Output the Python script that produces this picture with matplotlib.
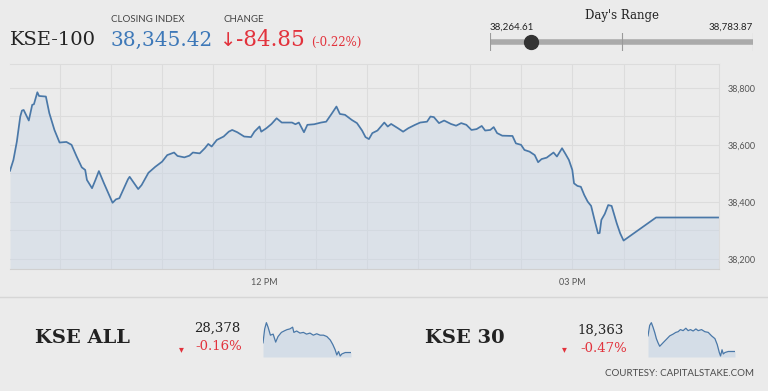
import numpy as np
import matplotlib
matplotlib.use("Agg")
import matplotlib.pyplot as plt
from matplotlib.lines import Line2D

# KSE-100 intraday, minutes after 09:30
kse100_min = [1, 3, 5, 7, 8, 9, 12, 14, 15, 17, 18, 22, 24, 27, 30, 34, 37, 40, 43, 45,
              46, 49, 51, 53, 56, 59, 61, 63, 65, 68, 70, 71, 73, 76, 78, 82, 86, 90, 93, 97,
              99, 103, 106, 108, 112, 115, 117, 119, 122, 126, 129, 131, 134, 138, 142, 144, 147, 148, 151, 154,
              157, 160, 166, 168, 170, 173, 175, 179, 183, 186, 189, 192, 194, 197, 201, 204, 207, 209, 211, 213,
              216, 220, 222, 224, 228, 231, 234, 238, 241, 245, 247, 249, 252, 255, 259, 262, 265, 268, 271, 274,
              277, 279, 282, 284, 286, 289, 295, 297, 300, 302, 305, 308, 310, 312, 315, 319, 321, 324, 326, 328,
              330, 331, 333, 335, 337, 339, 341, 343, 345, 346, 347, 349, 351, 353, 356, 358, 360, 379, 416]
kse100_val = [38509, 38547, 38611, 38699, 38720, 38722, 38685, 38740, 38742, 38784, 38771, 38769, 38711, 38652, 38608, 38610, 38600, 38559, 38521, 38512,
              38477, 38448, 38477, 38508, 38465, 38424, 38397, 38409, 38413, 38453, 38479, 38488, 38471, 38445, 38459, 38502, 38523, 38541, 38564, 38573,
              38561, 38556, 38562, 38573, 38570, 38588, 38603, 38594, 38617, 38629, 38646, 38652, 38644, 38629, 38627, 38646, 38664, 38646, 38658, 38673,
              38693, 38678, 38678, 38672, 38678, 38644, 38670, 38672, 38678, 38681, 38707, 38734, 38708, 38705, 38687, 38676, 38650, 38627, 38620, 38641,
              38650, 38678, 38664, 38673, 38658, 38646, 38658, 38670, 38678, 38681, 38699, 38697, 38676, 38685, 38673, 38667, 38676, 38670, 38652, 38655,
              38666, 38650, 38652, 38662, 38641, 38632, 38631, 38605, 38600, 38582, 38576, 38564, 38539, 38550, 38555, 38573, 38559, 38588, 38568, 38547,
              38512, 38465, 38456, 38453, 38424, 38401, 38386, 38337, 38290, 38291, 38337, 38358, 38389, 38386, 38325, 38290, 38264.61, 38345.42, 38345.42]

# sparklines
kse_all_min = [0, 8, 16, 24, 35, 48, 60, 71, 87, 103, 114, 127, 140, 146, 159, 175, 191, 206, 222, 238,
               254, 270, 286, 302, 318, 330, 341, 349, 357, 365, 373, 389, 416]
kse_all_val = [28462, 28582, 28636, 28597, 28528, 28537, 28468, 28516, 28552, 28567, 28576, 28582, 28597, 28552, 28564, 28546, 28552, 28537, 28546, 28528,
               28540, 28528, 28528, 28516, 28486, 28447, 28402, 28357, 28387, 28348, 28366, 28378, 28378]
kse30_min = [0, 8, 16, 24, 32, 40, 48, 56, 64, 75, 88, 104, 120, 133, 144, 155, 168, 181, 192, 203,
             216, 229, 240, 256, 272, 288, 304, 320, 331, 341, 347, 354, 360, 368, 384, 416]
kse30_val = [18453, 18513, 18529, 18503, 18473, 18437, 18413, 18393, 18403, 18417, 18433, 18453, 18463, 18473, 18477, 18489, 18483, 18497, 18483, 18489,
             18481, 18493, 18483, 18489, 18477, 18473, 18453, 18437, 18403, 18357, 18337, 18373, 18349, 18357, 18363, 18363]

day_low = 38264.61
day_high = 38783.87
close_val = 38345.42

yticks = [38200, 38400, 38600, 38800]
xtick_pos = [150, 330]
xtick_lab = ["12 PM", "03 PM"]

BG = "#ebebeb"
LINE = "#4a78a8"
FILL = "#c9d6e6"
RED = "#e2323c"
BLUE = "#3d78b8"
DARK = "#222222"
GREY = "#555555"
SERIF = "DejaVu Serif"
SANS = "Lato"

W, H = 768, 391
fig = plt.figure(figsize=(W / 100, H / 100), dpi=100, facecolor=BG)


def fx(x):
    return x / W


def fy(y):
    return 1 - y / H


def rect(x0, y0, x1, y1):
    return [fx(x0), fy(y1), fx(x1) - fx(x0), fy(y0) - fy(y1)]


# main chart
ax = fig.add_axes(rect(10, 64, 719.3, 269.3))
ax.set_facecolor(BG)
ax.plot(kse100_min, kse100_val, color=LINE, lw=1.25)
ax.fill_between(kse100_min, kse100_val, 38000, color=FILL, alpha=0.45, lw=0)
ax.set_xlim(1, 416)
ax.set_ylim(38164, 38883)
ax.set_xticks(range(30, 400, 30))
ax.set_xticklabels([xtick_lab[xtick_pos.index(t)] if t in xtick_pos else "" for t in range(30, 400, 30)])
ax.set_yticks(range(38200, 38900, 100))
ax.set_yticklabels([f"{v:,}" if v in yticks else "" for v in range(38200, 38900, 100)])
ax.yaxis.tick_right()
ax.tick_params(length=0, labelsize=6.5, labelcolor=GREY, pad=6)
for lab in ax.get_xticklabels() + ax.get_yticklabels():
    lab.set_fontfamily(SANS)
ax.grid(True, color="#dcdcdc", lw=0.8)
ax.set_axisbelow(True)
for side in ["top", "right"]:
    ax.spines[side].set_color("#dcdcdc")
ax.spines["left"].set_visible(False)
ax.spines["bottom"].set_color("#d0d0d0")

# separator
fig.add_artist(Line2D([0, 1], [fy(297), fy(297)], color="#d6d6d6", lw=1))

# header
fig.text(fx(10), fy(40), "KSE-100", fontsize=14, family=SERIF, color=DARK, va="center")
fig.text(fx(111), fy(19), "CLOSING INDEX", fontsize=7, family=SANS, color="#444444", va="center")
fig.text(fx(111), fy(40), "38,345.42", fontsize=14.5, family=SERIF, color=BLUE, va="center")
fig.text(fx(224), fy(19), "CHANGE", fontsize=7, family=SANS, color="#444444", va="center")
fig.text(fx(228), fy(40), "\u2193", fontsize=14, family="DejaVu Sans", color=RED, va="center", ha="center")
fig.text(fx(236), fy(40), "-84.85", fontsize=15.5, family=SERIF, color=RED, va="center")
fig.text(fx(311), fy(42), "(-0.22%)", fontsize=8.5, family=SERIF, color=RED, va="center")

# day's range
fig.text(fx(622), fy(16), "Day's Range", fontsize=8.5, family=SERIF, color=DARK, va="center", ha="center")
fig.text(fx(490), fy(27), f"{day_low:,.2f}", fontsize=7, family=SANS, color=DARK, va="center")
fig.text(fx(753), fy(27), f"{day_high:,.2f}", fontsize=7, family=SANS, color=DARK, va="center", ha="right")
rax = fig.add_axes(rect(490, 33, 753, 51))
rax.set_facecolor("none")
rax.axis("off")
rax.set_xlim(day_low, day_high)
rax.set_ylim(-1, 1)
rax.plot([day_low, day_high], [0, 0], color="#aaaaaa", lw=4, solid_capstyle="butt")
for v in [day_low, (day_low + day_high) / 2, day_high]:
    rax.plot([v, v], [-1, 1], color="#9a9a9a", lw=0.8)
rax.plot([close_val], [0], "o", ms=10, color="#333333")

# bottom indices
def sparkline(box, t, v):
    s = fig.add_axes(rect(*box))
    s.set_facecolor("none")
    s.axis("off")
    s.plot(t, v, color=LINE, lw=0.9)
    lo = min(v) - (max(v) - min(v)) * 0.03
    s.fill_between(t, v, lo, color=FILL, alpha=0.65, lw=0)
    s.set_xlim(t[0], t[-1])
    s.set_ylim(lo, max(v) + (max(v) - min(v)) * 0.02)


fig.text(fx(35), fy(338), "KSE ALL", fontsize=14, family=SERIF, weight="bold", color=DARK, va="center")
fig.text(fx(240), fy(328), "28,378", fontsize=9.5, family=SERIF, color=DARK, va="center", ha="right")
fig.text(fx(181), fy(349), "\u25be", fontsize=7, family="DejaVu Sans", color=RED, va="center", ha="center")
fig.text(fx(242), fy(347), "-0.16%", fontsize=9.5, family=SERIF, color=RED, va="center", ha="right")
sparkline((263, 322, 351, 357), kse_all_min, kse_all_val)

fig.text(fx(425), fy(338), "KSE 30", fontsize=14, family=SERIF, weight="bold", color=DARK, va="center")
fig.text(fx(624), fy(330), "18,363", fontsize=9.5, family=SERIF, color=DARK, va="center", ha="right")
fig.text(fx(564), fy(349), "\u25be", fontsize=7, family="DejaVu Sans", color=RED, va="center", ha="center")
fig.text(fx(627), fy(348), "-0.47%", fontsize=9.5, family=SERIF, color=RED, va="center", ha="right")
sparkline((648, 322, 735, 357), kse30_min, kse30_val)

fig.text(fx(754), fy(373), "COURTESY: CAPITALSTAKE.COM", fontsize=7, family=SANS, color="#4a4a4a",
         va="center", ha="right")

fig.savefig("out.png", dpi=100, facecolor=BG)
